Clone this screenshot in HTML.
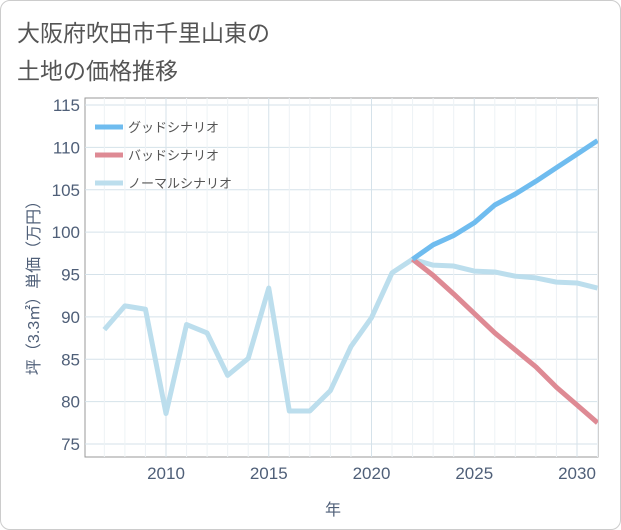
<!DOCTYPE html>
<html><head><meta charset="utf-8"><style>
body{margin:0;background:#fff;}
#wrap{position:relative;width:619px;height:528px;border:1px solid #ccc;border-radius:10px;overflow:hidden;font-family:"Liberation Sans","Noto Sans CJK JP",sans-serif;}
</style></head><body>
<div id="wrap">
<svg id="chart" width="621" height="530"></svg>
</div>
<script>
const years=[2007,2008,2009,2010,2011,2012,2013,2014,2015,2016,2017,2018,2019,2020,2021,2022,2023,2024,2025,2026,2027,2028,2029,2030,2031];
const normalVals=[88.5,91.3,90.9,78.6,89.1,88.1,83.1,85.1,93.4,78.9,78.9,81.3,86.5,89.9,95.2,96.8,96.1,96.0,95.4,95.3,94.8,94.6,94.1,94.0,93.4];
const futureYears=[2022,2023,2024,2025,2026,2027,2028,2029,2030,2031];
const goodVals=[96.8,98.5,99.6,101.1,103.2,104.5,106.0,107.6,109.2,110.8];
const badVals=[96.8,94.9,92.7,90.4,88.1,86.1,84.1,81.7,79.6,77.5];
const yTicks=[75,80,85,90,95,100,105,110,115];
const xTicks=[2010,2015,2020,2025,2030];
const NS='http://www.w3.org/2000/svg';
const svg=document.getElementById('chart');
const L=84,R=597,T=97,B=456;
const x=v=>165+(v-2010)*20.55;
const y=v=>443-(v-75)*8.475;
function mk(tag,attrs){const e=document.createElementNS(NS,tag);for(const k in attrs)e.setAttribute(k,attrs[k]);svg.appendChild(e);return e;}
let t=mk('text',{x:16,y:40,'font-size':23,fill:'#555'});t.textContent='大阪府吹田市千里山東の';


t=mk('text',{x:16,y:78,'font-size':23,fill:'#555'});t.textContent='土地の価格推移';


let r=mk('rect',{x:L,y:T,width:R-L,height:B-T,fill:'#fff',stroke:'#999','stroke-width':1});


yTicks.forEach(v=>{
 const g=mk('line',{x1:L,x2:R,y1:y(v),y2:y(v),stroke:'#d5e2ea','stroke-width':1});
 
 
 const tx=mk('text',{x:L-5,y:y(v)+6,'text-anchor':'end','font-size':17,fill:'#4f5f78'});tx.textContent=v;
 
 
});
for(let yr=2007;yr<=2031;yr++){
 const g=mk('line',{x1:x(yr),x2:x(yr),y1:T,y2:B,stroke:xTicks.includes(yr)?'#d5e2ea':'#edf2f5','stroke-width':1});
 
 
}
xTicks.forEach(v=>{
 const tx=mk('text',{x:x(v),y:478,'text-anchor':'middle','font-size':17,fill:'#4f5f78'});tx.textContent=v;
 
 
});
t=mk('text',{x:332,y:514,'text-anchor':'middle','font-size':16,fill:'#4f5f78'});t.textContent='年';


t=mk('text',{x:0,y:0,'text-anchor':'middle','font-size':16,fill:'#4f5f78',transform:'translate(38,283) rotate(-90)'});t.textContent='坪（3.3㎡）単価（万円）';


const clip=mk('clipPath',{id:'pc'});const cr=document.createElementNS(NS,'rect');cr.setAttribute('x',L);cr.setAttribute('y',T);cr.setAttribute('width',R-L);cr.setAttribute('height',B-T);clip.appendChild(cr);
function line(xs,vs,color,name){
 const p=mk('polyline',{points:xs.map((a,i)=>x(a)+','+y(vs[i])).join(' '),fill:'none',stroke:color,'stroke-width':5,'stroke-linejoin':'round','clip-path':'url(#pc)'});
 
 
}
line(years,normalVals,'#bcdeed','normal-scenario-line');
line(futureYears,badVals,'#de8a94','bad-scenario-line');
line(futureYears,goodVals,'#6fbcef','good-scenario-line');
const leg=[['グッドシナリオ','#6fbcef'],['バッドシナリオ','#de8a94'],['ノーマルシナリオ','#bcdeed']];
leg.forEach((d,i)=>{
 const yy=126+i*28;
 const l=mk('line',{x1:94,x2:122,y1:yy,y2:yy,stroke:d[1],'stroke-width':5});
 
 
 const tx=mk('text',{x:127,y:yy+5,'font-size':13,fill:'#555'});tx.textContent=d[0];
 
 
});
</script>
</body></html>
